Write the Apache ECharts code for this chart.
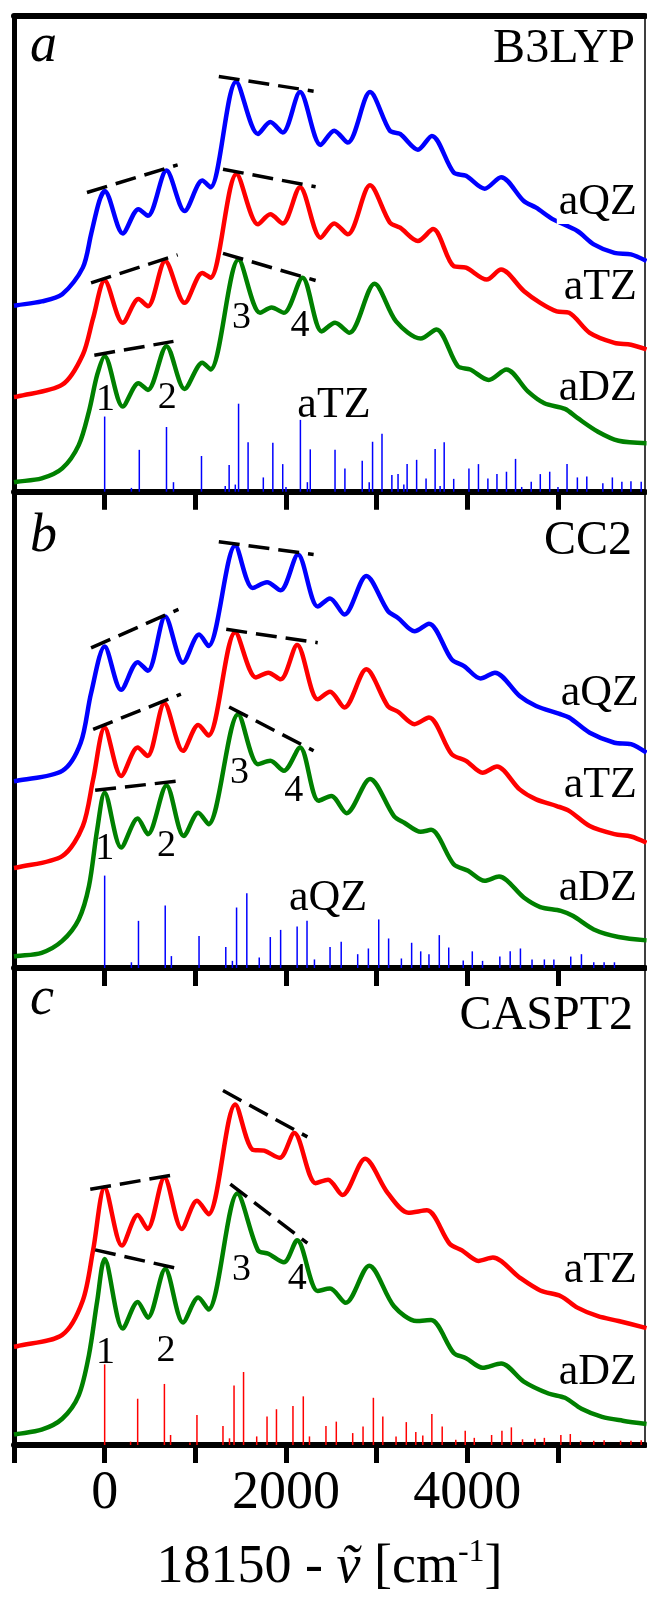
<!DOCTYPE html>
<html>
<head>
<meta charset="utf-8">
<script src="https://cdn.jsdelivr.net/npm/echarts@6/dist/echarts.min.js"></script>
<style>
body{margin:0;background:#fff}
#spec{width:647px;height:1602px}
</style>
</head>
<body>
<div id="spec"></div>
<script>
// x axis (cm-1 relative to 18150)
var xTicks = [-1000, 0, 1000, 2000, 3000, 4000, 5000];
var xLabels = [0, 2000, 4000];

// panel a, B3LYP  (y = fraction of panel height)
var b3lypQZ = [[-1000,0.391],[-968,0.392],[-695,0.400],[-468,0.415],[-241,0.471],[-150,0.541],[-59,0.611],[0,0.632],[200,0.543],[373,0.594],[477,0.580],[682,0.675],[882,0.590],[1077,0.654],[1168,0.640],[1450,0.862],[1691,0.752],[1827,0.777],[1964,0.755],[2155,0.840],[2382,0.729],[2532,0.759],[2682,0.734],[2927,0.840],[3145,0.759],[3259,0.752],[3455,0.719],[3609,0.748],[3850,0.671],[3986,0.664],[4191,0.637],[4373,0.661],[4623,0.611],[4759,0.597],[4941,0.573],[5214,0.548],[5395,0.520],[5623,0.502],[5805,0.499],[5977,0.485]];
var b3lypTZ = [[-1000,0.199],[-968,0.200],[-468,0.225],[-241,0.288],[-127,0.365],[0,0.444],[200,0.355],[373,0.405],[477,0.390],[668,0.485],[882,0.397],[1077,0.460],[1168,0.450],[1455,0.668],[1691,0.562],[1827,0.583],[1964,0.564],[2155,0.640],[2382,0.534],[2532,0.564],[2682,0.541],[2927,0.644],[3145,0.566],[3259,0.555],[3455,0.527],[3623,0.552],[3850,0.474],[3986,0.471],[4214,0.446],[4373,0.467],[4623,0.422],[4805,0.397],[4986,0.379],[5123,0.376],[5350,0.334],[5623,0.313],[5805,0.309],[5977,0.299]];
var b3lypDZ = [[-1000,0.020],[-968,0.021],[-695,0.028],[-468,0.049],[-286,0.098],[-173,0.169],[-82,0.246],[0,0.285],[200,0.179],[373,0.228],[477,0.214],[682,0.306],[882,0.216],[1077,0.271],[1168,0.257],[1477,0.488],[1714,0.376],[1841,0.387],[1977,0.376],[2182,0.450],[2395,0.337],[2541,0.355],[2700,0.334],[2977,0.437],[3214,0.358],[3486,0.322],[3659,0.341],[3895,0.264],[4032,0.257],[4236,0.235],[4432,0.257],[4668,0.211],[4850,0.186],[5077,0.174],[5214,0.155],[5441,0.126],[5668,0.107],[5977,0.102]];
var b3lypDash = [[[-195,0.629],[805,0.687]],[[1259,0.873],[2305,0.842]],[[-150,0.439],[805,0.498]],[[1305,0.678],[2327,0.641]],[[-114,0.287],[759,0.316]],[[1305,0.501],[2327,0.444]]];
var b3lypNums = [[9,0.193,'1'],[691,0.197,'2'],[1509,0.365,'3'],[2155,0.348,'4']];
var b3lypSticks = [[0,0.158],[295,0.008],[382,0.088],[682,0.136],[759,0.02],[1068,0.075],[1330,0.012],[1373,0.056],[1441,0.015],[1477,0.185],[1582,0.104],[1750,0.03],[1855,0.103],[1964,0.058],[2000,0.01],[2159,0.151],[2236,0.02],[2268,0.089],[2541,0.088],[2650,0.049],[2841,0.065],[2918,0.02],[2955,0.105],[3059,0.122],[3168,0.035],[3236,0.037],[3300,0.015],[3336,0.058],[3441,0.067],[3545,0.028],[3645,0.09],[3700,0.012],[3745,0.104],[3850,0.027],[4018,0.049],[4123,0.058],[4227,0.028],[4327,0.037],[4432,0.042],[4532,0.069],[4600,0.01],[4705,0.021],[4805,0.037],[4909,0.042],[5000,0.01],[5100,0.058],[5214,0.03],[5318,0.032],[5495,0.018],[5600,0.03],[5705,0.021],[5805,0.022],[5918,0.021]];

// panel b, CC2
var cc2QZ = [[-1000,0.392],[-968,0.393],[-468,0.414],[-264,0.473],[-150,0.577],[0,0.675],[182,0.584],[364,0.642],[477,0.624],[668,0.738],[864,0.641],[1041,0.700],[1145,0.676],[1441,0.887],[1632,0.798],[1791,0.810],[1941,0.793],[2132,0.868],[2350,0.759],[2486,0.776],[2645,0.742],[2886,0.823],[3123,0.750],[3236,0.735],[3418,0.707],[3577,0.723],[3827,0.648],[3964,0.634],[4145,0.608],[4305,0.620],[4577,0.571],[4759,0.550],[5009,0.534],[5123,0.526],[5350,0.494],[5623,0.473],[5805,0.470],[5977,0.452]];
var cc2TZ = [[-1000,0.210],[-968,0.211],[-468,0.235],[-241,0.298],[-127,0.396],[0,0.505],[182,0.403],[364,0.463],[473,0.445],[659,0.556],[864,0.456],[1032,0.510],[1145,0.488],[1441,0.705],[1668,0.610],[1805,0.620],[1941,0.606],[2123,0.678],[2350,0.564],[2486,0.580],[2645,0.547],[2886,0.627],[3123,0.550],[3236,0.538],[3418,0.512],[3577,0.526],[3827,0.449],[3986,0.435],[4168,0.410],[4327,0.423],[4577,0.375],[4759,0.354],[4986,0.340],[5123,0.330],[5350,0.298],[5623,0.281],[5805,0.276],[5977,0.263]];
var cc2DZ = [[-1000,0.024],[-968,0.025],[-695,0.032],[-468,0.057],[-286,0.102],[-173,0.172],[-82,0.291],[0,0.368],[182,0.253],[364,0.314],[477,0.281],[682,0.383],[873,0.277],[1032,0.326],[1145,0.302],[1473,0.533],[1691,0.428],[1827,0.435],[1977,0.414],[2155,0.463],[2359,0.351],[2500,0.361],[2668,0.325],[2927,0.397],[3191,0.319],[3305,0.305],[3486,0.286],[3600,0.290],[3850,0.218],[4009,0.204],[4191,0.183],[4350,0.192],[4623,0.148],[4805,0.128],[5032,0.120],[5168,0.109],[5395,0.081],[5668,0.065],[5977,0.058]];
var cc2Dash = [[[-150,0.672],[814,0.753]],[[1259,0.895],[2305,0.868]],[[-127,0.501],[841,0.575]],[[1341,0.711],[2350,0.683]],[[-105,0.373],[873,0.394]],[[1373,0.548],[2305,0.456]]];
var cc2Nums = [[0,0.249,'1'],[682,0.256,'2'],[1486,0.410,'3'],[2086,0.372,'4']];
var cc2Sticks = [[0,0.194],[295,0.012],[373,0.099],[668,0.131],[736,0.025],[1041,0.067],[1336,0.044],[1409,0.015],[1455,0.127],[1568,0.157],[1705,0.022],[1827,0.065],[1941,0.08],[2123,0.087],[2232,0.099],[2314,0.018],[2486,0.044],[2609,0.055],[2791,0.029],[2909,0.041],[3023,0.102],[3132,0.062],[3273,0.02],[3386,0.053],[3486,0.035],[3577,0.029],[3691,0.069],[3795,0.043],[3955,0.016],[4055,0.035],[4168,0.015],[4359,0.024],[4473,0.035],[4586,0.041],[4714,0.018],[4850,0.018],[4955,0.018],[5141,0.024],[5259,0.029],[5395,0.012],[5509,0.012],[5623,0.012]];

// panel c, CASPT2
var caspt2TZ = [[-1000,0.206],[-968,0.207],[-468,0.231],[-241,0.303],[-127,0.409],[0,0.540],[191,0.418],[364,0.482],[473,0.453],[659,0.561],[850,0.453],[1018,0.512],[1145,0.484],[1441,0.714],[1632,0.619],[1759,0.617],[1932,0.602],[2091,0.654],[2327,0.549],[2464,0.556],[2623,0.524],[2873,0.600],[3123,0.528],[3350,0.487],[3555,0.492],[3805,0.422],[3941,0.408],[4123,0.386],[4282,0.393],[4577,0.351],[4805,0.324],[5032,0.312],[5214,0.288],[5441,0.270],[5668,0.260],[5977,0.245]];
var caspt2DZ = [[-1000,0.022],[-968,0.023],[-695,0.032],[-468,0.055],[-286,0.104],[-173,0.189],[-82,0.302],[0,0.390],[200,0.244],[364,0.300],[477,0.267],[668,0.369],[864,0.257],[1032,0.309],[1145,0.284],[1464,0.527],[1691,0.408],[1805,0.401],[1977,0.383],[2123,0.429],[2350,0.323],[2486,0.328],[2659,0.298],[2918,0.376],[3191,0.291],[3441,0.260],[3600,0.262],[3850,0.193],[3986,0.182],[4168,0.162],[4373,0.171],[4623,0.133],[4895,0.108],[5077,0.099],[5259,0.076],[5486,0.059],[5714,0.051],[5977,0.044]];
var caspt2Dash = [[[-159,0.536],[814,0.568]],[[1305,0.743],[2236,0.646]],[[-105,0.409],[827,0.369]],[[1386,0.547],[2236,0.423]]];
var caspt2Nums = [[9,0.193,'1'],[677,0.197,'2'],[1509,0.367,'3'],[2123,0.348,'4']];
var caspt2Sticks = [[0,0.169],[286,0.007],[364,0.097],[659,0.128],[727,0.021],[941,0.005],[1018,0.063],[1305,0.04],[1377,0.014],[1427,0.125],[1532,0.153],[1677,0.018],[1791,0.06],[1895,0.075],[2077,0.082],[2191,0.102],[2259,0.018],[2441,0.04],[2555,0.049],[2736,0.025],[2850,0.039],[2964,0.099],[3068,0.06],[3214,0.018],[3327,0.048],[3432,0.027],[3509,0.02],[3609,0.065],[3723,0.039],[3873,0.011],[3977,0.03],[4077,0.015],[4268,0.021],[4382,0.03],[4486,0.037],[4609,0.012],[4745,0.013],[4850,0.015],[5032,0.021],[5136,0.023],[5250,0.009],[5395,0.009],[5509,0.01],[5691,0.009],[5805,0.009],[5918,0.01]];

var font = '"Liberation Serif", "Times New Roman", serif';
var BLUE = '#0000ff', RED = '#ff0000', GREEN = '#008000';

var chart = echarts.init(document.querySelector('#spec'));

var grids = [
    {left: 14, top: 16, width: 631, height: 475.7},
    {left: 14, top: 491.7, width: 631, height: 476.3},
    {left: 14, top: 968, width: 631, height: 477}
];

var xAxes = [], yAxes = [], series = [];

grids.forEach(function (g, i) {
    g.show = true;
    g.borderColor = '#000';
    g.borderWidth = 1.5;
    g.backgroundColor = 'transparent';
    var ax = {
        gridIndex: i,
        type: 'value',
        min: -1000,
        max: 5960,
        axisLine: {onZero: false, lineStyle: {color: '#000', width: 6}},
        axisTick: {customValues: xTicks, length: 18, lineStyle: {color: '#000', width: 5}},
        axisLabel: {
            show: i == 2, customValues: xLabels, fontSize: 54, fontFamily: font, color: '#000', margin: 22,
            formatter: function (v) { return String(v); }
        },
        splitLine: {show: false}
    };
    if (i == 2) {
        ax.name = '18150 - {i|\u1e7d} [cm{sup|-1}]';
        ax.nameLocation = 'middle';
        ax.nameGap = 92;
        ax.nameTextStyle = {
            fontSize: 54, fontFamily: font, color: '#000',
            rich: {
                i: {fontSize: 54, fontFamily: font, fontStyle: 'italic', color: '#000'},
                sup: {fontSize: 32, fontFamily: font, color: '#000', padding: [0, 0, 30, 0]}
            }
        };
    }
    xAxes.push(ax);
    yAxes.push({
        gridIndex: i, type: 'value', min: 0, max: 1,
        axisLine: {show: true, onZero: false, lineStyle: {color: '#000', width: 5}},
        axisTick: {show: false}, axisLabel: {show: false}, splitLine: {show: false}
    });
});
// top border of panel a
xAxes.push({
    gridIndex: 0, type: 'value', position: 'top', min: -1000, max: 5960,
    axisLine: {onZero: false, lineStyle: {color: '#000', width: 6}},
    axisTick: {show: false}, axisLabel: {show: false}, splitLine: {show: false}
});

function addCurve(i, data, color) {
    series.push({
        type: 'line', xAxisIndex: i, yAxisIndex: i, data: data,
        smooth: 0.3, symbol: 'none', silent: true,
        lineStyle: {color: color, width: 4.5}, z: 3
    });
}
function addDashes(i, segs) {
    segs.forEach(function (s) {
        series.push({
            type: 'line', xAxisIndex: i, yAxisIndex: i, data: s,
            symbol: 'none', silent: true,
            lineStyle: {color: '#000', width: 3.5, type: [21, 9]}, z: 4
        });
    });
}
function addSticks(i, data, color) {
    series.push({
        type: 'bar', xAxisIndex: i, yAxisIndex: i, data: data,
        barWidth: 1.5, silent: true, itemStyle: {color: color}, z: 2
    });
}
function addNums(i, data) {
    series.push({
        type: 'scatter', xAxisIndex: i, yAxisIndex: i, data: data,
        symbolSize: 1, silent: true, itemStyle: {color: 'rgba(0,0,0,0)', opacity: 1},
        label: {
            show: true, position: 'inside', fontSize: 38, fontFamily: font, color: '#000',
            formatter: function (p) { return p.data[2]; }
        }, z: 5
    });
}

addSticks(0, b3lypSticks, BLUE);
addCurve(0, b3lypQZ, BLUE);
addCurve(0, b3lypTZ, RED);
addCurve(0, b3lypDZ, GREEN);
addDashes(0, b3lypDash);
addNums(0, b3lypNums);

addSticks(1, cc2Sticks, BLUE);
addCurve(1, cc2QZ, BLUE);
addCurve(1, cc2TZ, RED);
addCurve(1, cc2DZ, GREEN);
addDashes(1, cc2Dash);
addNums(1, cc2Nums);

addSticks(2, caspt2Sticks, RED);
addCurve(2, caspt2TZ, RED);
addCurve(2, caspt2DZ, GREEN);
addDashes(2, caspt2Dash);
addNums(2, caspt2Nums);

function txt(s, x, y, size, align, extra) {
    var st = {text: s, x: x, y: y, fill: '#000', font: (extra && extra.italic ? 'italic ' : '') + size + 'px ' + font,
        align: align, verticalAlign: 'middle'};
    if (extra && extra.bg) { st.backgroundColor = '#fff'; st.padding = [0, 2]; }
    return {type: 'text', z: 100, style: st};
}

var option = {
    animation: false,
    backgroundColor: '#fff',
    grid: grids,
    xAxis: xAxes,
    yAxis: yAxes,
    series: series,
    graphic: [
        // panel letters and method names
        txt('a', 30, 47, 54, 'left', {italic: true}),
        txt('B3LYP', 635, 49, 48, 'right'),
        txt('b', 30, 537, 54, 'left', {italic: true}),
        txt('CC2', 632, 541, 48, 'right'),
        txt('c', 30, 1000, 54, 'left', {italic: true}),
        txt('CASPT2', 633, 1016, 48, 'right'),
        // basis set labels
        txt('aQZ', 639, 202, 44, 'right', {bg: true}),
        txt('aTZ', 637, 287, 44, 'right'),
        txt('aDZ', 637, 388, 44, 'right'),
        txt('aTZ', 334, 405, 44, 'center'),
        txt('aQZ', 639, 693, 44, 'right'),
        txt('aTZ', 637, 785, 44, 'right'),
        txt('aDZ', 637, 888, 44, 'right'),
        txt('aQZ', 328, 898, 44, 'center'),
        txt('aTZ', 637, 1270, 44, 'right'),
        txt('aDZ', 637, 1372, 44, 'right')
    ]
};

chart.setOption(option);
</script>
</body>
</html>
